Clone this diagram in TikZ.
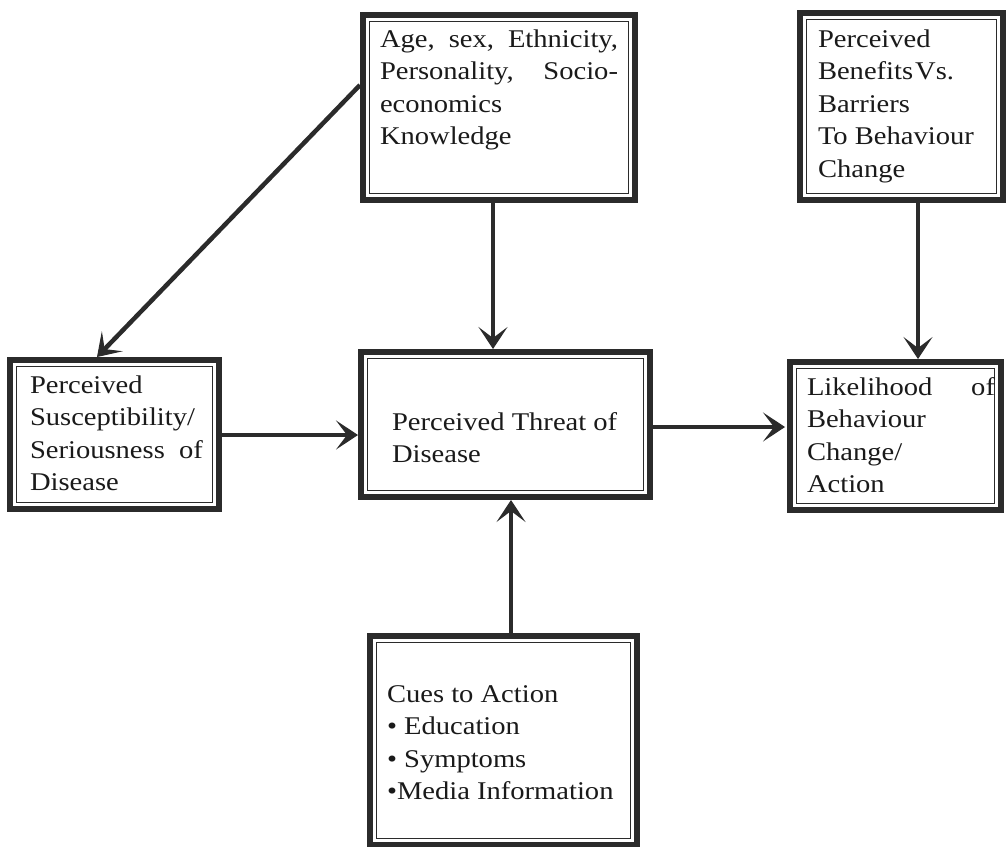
\documentclass[tikz,border=0pt]{standalone}
\usepackage{fontspec}
\setmainfont{Liberation Serif}[FakeStretch=1.12]
\usetikzlibrary{arrows.meta}
\definecolor{ink}{HTML}{2B2B2B}
\definecolor{txt}{HTML}{1A1A1A}
\begin{document}
\begin{tikzpicture}[x=1pt,y=-1pt,
  frame/.style={rectangle, inner sep=0pt, outer sep=0pt},
  lbl/.style={anchor=base west, inner sep=0pt, outer sep=0pt, text=txt,
              font=\fontsize{25.5}{32.6}\selectfont},
  conn/.style={draw=ink, line width=4.5pt,
               -{Stealth[length=22pt,width=29pt,inset=11pt,line width=1pt]}}]
\useasboundingbox[fill=white] (0,0) rectangle (1008,846);

% box outlines (outer edges)
\node[frame, minimum width=278pt, minimum height=191pt] (age) at (499,107.5) {};
\node[frame, minimum width=209pt, minimum height=193pt] (ben) at (901.5,106.5) {};
\node[frame, minimum width=215pt, minimum height=155pt] (sus) at (114.5,434.5) {};
\node[frame, minimum width=295pt, minimum height=151pt] (thr) at (505.5,424.5) {};
\node[frame, minimum width=217pt, minimum height=154pt] (lik) at (895.5,436) {};
\node[frame, minimum width=273pt, minimum height=215pt] (cue) at (503.5,740.5) {};

% thick outer rule and thin inner rule of every box
\foreach \b in {age,ben,sus,thr,lik,cue}{
  \draw[ink, line width=6pt]
    ([shift={(3,3)}]\b.north west) rectangle ([shift={(-3,-3)}]\b.south east);
  \draw[ink, line width=1.4pt]
    ([shift={(9.5,9.5)}]\b.north west) rectangle ([shift={(-9.5,-9.5)}]\b.south east);
}

% box texts
\node[lbl] (tage) at (380,47) {\parbox[t]{238pt}{%
  \makebox[\linewidth][s]{Age, sex, Ethnicity,}\\
  \makebox[\linewidth][s]{Personality, Socio-}\\
  economics\\
  Knowledge}};
\node[lbl] (tben) at (818,47) {\parbox[t]{180pt}{%
  Perceived\\
  Benefits\kern2pt Vs.\\
  Barriers\\
  To Behaviour\\
  Change}};
\node[lbl] (tsus) at (30,393) {\parbox[t]{173pt}{%
  Perceived\\
  Susceptibility/\\
  \makebox[\linewidth][s]{Seriousness of}\\
  Disease}};
\node[lbl] (tthr) at (392,430) {\parbox[t]{250pt}{%
  Perceived Threat of\\
  Disease}};
\node[lbl] (tlik) at (807,395) {\parbox[t]{188pt}{%
  \makebox[\linewidth][s]{Likelihood of}\\
  Behaviour\\
  Change/\\
  Action}};
\node[lbl] (tcue) at (387,702) {\parbox[t]{240pt}{%
  Cues to Action\\
  • Education\\
  • Symptoms\\
  •Media Information}};

% connectors
\draw[conn] (age.south -| 493,0) -- (thr.north -| 493,0);
\draw[conn] (age.west |- 0,85) -- (sus.north -| 97,0);
\draw[conn] (sus.east |- 0,435) -- (thr.west |- 0,435);
\draw[conn] (thr.east |- 0,427) -- ([xshift=-2pt]lik.west |- 0,427);
\draw[conn] (ben.south -| 918,0) -- (lik.north -| 918,0);
\draw[conn] (cue.north -| 511,0) -- (thr.south -| 511,0);
\end{tikzpicture}
\end{document}
